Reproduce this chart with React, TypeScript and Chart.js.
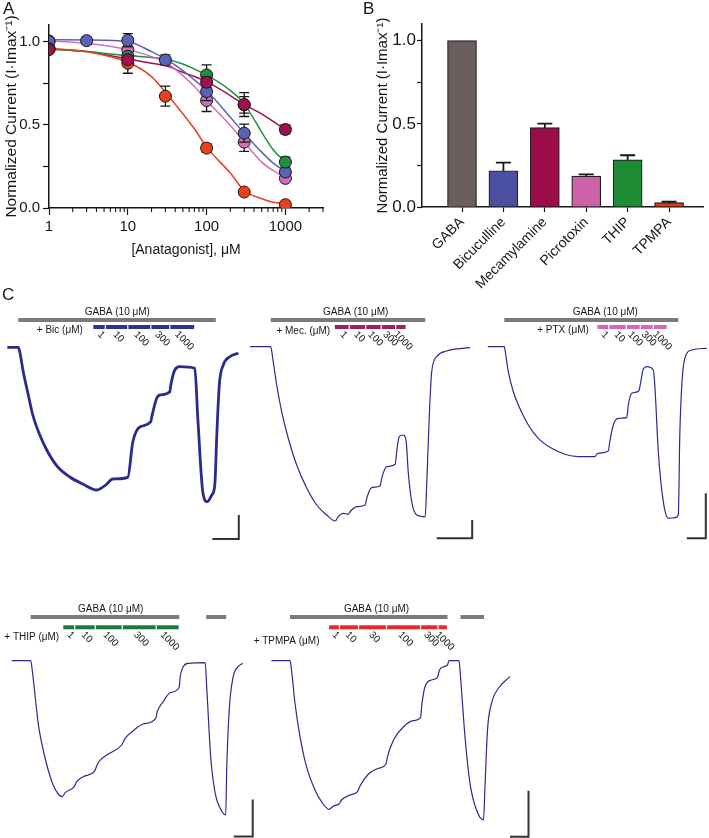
import React, { useEffect, useRef } from "react";
import { Chart, registerables } from "chart.js";

Chart.register(...registerables);

const FONT = "'Liberation Sans', Arial, Helvetica, sans-serif";
const INK = "#161616";
const TRACE = "#2b2b8c";

// ---------------- Panel A: concentration–response ----------------
const aXTicks = [1, 2, 3, 4, 5, 6, 7, 8, 9, 10, 20, 30, 40, 50, 60, 70, 80, 90, 100, 200, 300, 400, 500, 600, 700, 800, 900, 1000, 2000, 3000];
const aXMajor = [1, 10, 100, 1000];
const aYTicks = [0, 0.25, 0.5, 0.75, 1.0];
const aYLabelled = [0, 0.5, 1.0];

const curveX = [1, 3, 10, 20, 30, 50, 70, 100, 200, 300, 500, 700, 1000];
const curveTPMPA = [0.96, 0.94, 0.876, 0.79, 0.696, 0.566, 0.476, 0.366, 0.21, 0.105, 0.056, 0.035, 0.026];
const curveBic = [1.012, 1.01, 1.0, 0.94, 0.896, 0.826, 0.77, 0.706, 0.546, 0.45, 0.336, 0.27, 0.22];
const curvePTX = [1.006, 0.99, 0.952, 0.91, 0.876, 0.796, 0.73, 0.646, 0.496, 0.396, 0.276, 0.225, 0.186];
const curveTHIP = [0.956, 0.94, 0.916, 0.905, 0.896, 0.866, 0.835, 0.8, 0.706, 0.626, 0.456, 0.35, 0.276];
const curveMec = [0.956, 0.94, 0.896, 0.87, 0.856, 0.816, 0.79, 0.76, 0.676, 0.622, 0.566, 0.52, 0.472];

const tpmpaX = [1, 10, 30, 100, 300, 1000];
const tpmpaY = [0.96, 0.87, 0.672, 0.36, 0.096, 0.02];
const tpmpaErr = [0, 0.06, 0.06, 0.025, 0.01, 0.005];
const bicX = [1, 3, 10, 30, 100, 300, 1000];
const bicY = [1.0, 1.006, 1.008, 0.89, 0.7, 0.45, 0.216];
const bicErr = [0, 0.023, 0.04, 0.03, 0.054, 0.054, 0.02];
const ptxX = [1, 10, 100, 300, 1000];
const ptxY = [1.004, 0.952, 0.646, 0.396, 0.178];
const ptxErr = [0, 0.02, 0.066, 0.056, 0.015];
const thipX = [1, 10, 100, 300, 1000];
const thipY = [0.956, 0.912, 0.8, 0.62, 0.276];
const thipErr = [0, 0.02, 0.06, 0.05, 0.03];
const mecX = [1, 10, 100, 300, 1000];
const mecY = [0.952, 0.892, 0.756, 0.622, 0.472];
const mecErr = [0, 0.02, 0.03, 0.072, 0.027];

const colTPMPA = "#e8401a";
const colBic = "#5a62b8";
const colPTX = "#d070b8";
const colTHIP = "#1f9040";
const colMec = "#a0104f";

// ---------------- Panel B: 1 mM antagonist ----------------
const bCategories = ["GABA", "Bicuculline", "Mecamylamine", "Picrotoxin", "THIP", "TPMPA"];
const bValues = [1.0, 0.218, 0.477, 0.186, 0.283, 0.026];
const bErrors = [0, 0.049, 0.024, 0.01, 0.028, 0.006];
const bColors = ["#6a5f5d", "#4a50a0", "#9c0b4a", "#cc62a8", "#1d8c35", "#e03a10"];
const bXTicks = [0, 1, 2, 3, 4, 5];

// ---------------- Panel C: traces (time s, current pA) ----------------
const bicTraceT = [-22, 0, 3, 10, 20, 29, 43, 59, 79, 103, 129, 157, 163, 175, 189, 219, 229, 243, 265, 267, 277, 283, 303, 305, 313, 323, 353, 359, 369, 378, 387, 393, 397, 402, 410, 423, 440];
const bicTraceI = [0, 0, -47, -247, -477, -677, -877, -1047, -1197, -1297, -1367, -1427, -1417, -1377, -1317, -1300, -947, -797, -744, -694, -507, -477, -444, -377, -227, -194, -210, -707, -1447, -1544, -1477, -1377, -877, -377, -177, -94, -60];
const bicSteps = [149, 174, 219, 265, 303, 353];
const bicConc = ["1", "10", "100", "300", "1000"];
const bicGaba = [[0, 395]];

const mecTraceT = [-41, 0, 4, 12, 22, 35, 52, 72, 92, 112, 129, 135, 145, 155, 160, 172, 189, 192, 202, 219, 222, 232, 249, 252, 257, 265, 271, 275, 282, 292, 309, 312, 317, 322, 332, 352, 399];
const mecTraceI = [0, 0, -113, -383, -650, -913, -1183, -1413, -1583, -1683, -1743, -1700, -1666, -1676, -1643, -1600, -1583, -1516, -1410, -1390, -1316, -1200, -1176, -1050, -900, -883, -950, -1250, -1550, -1683, -1700, -1383, -713, -250, -100, -43, -10];
const mecSteps = [127, 157, 190, 221, 250, 271];
const mecConc = ["1", "10", "100", "300", "1000"];
const mecGaba = [[0, 309]];

const ptxTraceT = [-33, 0, 3, 8, 18, 31, 48, 68, 95, 121, 148, 181, 187, 208, 211, 218, 228, 245, 248, 255, 269, 273, 278, 285, 298, 301, 308, 318, 328, 341, 348, 351, 355, 361, 375, 405];
const ptxTraceI = [0, 0, -83, -250, -450, -616, -783, -916, -1016, -1076, -1100, -1100, -1066, -1043, -950, -783, -716, -710, -583, -466, -443, -350, -223, -200, -233, -383, -1050, -1550, -1716, -1710, -1683, -883, -383, -116, -33, -16];
const ptxSteps = [185, 209, 244, 272, 298, 326];
const ptxConc = ["1", "10", "100", "300", "1000"];
const ptxGaba = [[0, 348]];

const thipTraceT = [-38, 0, 3, 9, 15, 25, 35, 45, 55, 63, 69, 87, 92, 105, 127, 135, 152, 182, 189, 205, 225, 250, 253, 265, 279, 297, 299, 305, 315, 349, 352, 360, 369, 379, 390, 392, 397, 405, 415, 424];
const thipTraceI = [0, 0, -93, -360, -626, -893, -1093, -1243, -1333, -1360, -1320, -1260, -1210, -1160, -1110, -1020, -943, -843, -776, -700, -633, -576, -510, -410, -320, -266, -160, -60, -26, -20, -260, -960, -1326, -1476, -1543, -1093, -493, -160, -60, -26];
const thipSteps = [64, 88, 129, 183, 251, 297];
const thipConc = ["1", "10", "100", "300", "1000"];
const thipGaba = [[0, 297], [351, 391]];

const tpTraceT = [-37, 0, 3, 10, 20, 33, 50, 63, 78, 87, 98, 103, 120, 135, 140, 157, 177, 192, 195, 207, 227, 247, 261, 264, 270, 283, 295, 299, 307, 315, 318, 338, 341, 350, 360, 373, 387, 390, 395, 403, 417, 440];
const tpTraceI = [0, 0, -93, -426, -760, -1060, -1293, -1410, -1486, -1453, -1433, -1393, -1343, -1310, -1253, -1133, -1076, -1033, -960, -793, -660, -600, -570, -426, -260, -193, -166, -93, -60, -43, 0, 0, -160, -760, -1226, -1493, -1593, -1260, -693, -426, -276, -160];
const tpSteps = [77, 99, 137, 193, 261, 296, 315];
const tpConc = ["1", "10", "30", "100", "300", "1000"];
const tpGaba = [[0, 315], [341, 388]];

// ---------------- plugins ----------------
const errorBarPlugin = {
  id: "errbars",
  beforeDatasetDraw(chart: any, args: any, opts: any) {
    const ds = chart.data.datasets[args.index];
    if (!ds.yErr) return;
    const ys = chart.scales.y;
    const ctx = chart.ctx;
    ctx.save();
    ctx.strokeStyle = INK;
    ctx.lineWidth = opts.width || 1.3;
    const cap = opts.cap || 5;
    args.meta.data.forEach((el: any, i: number) => {
      const e = ds.yErr[i];
      if (!e) return;
      const v = ds.data[i].y;
      const yt = ys.getPixelForValue(v + e);
      const yb = ys.getPixelForValue(v - e);
      const x = el.x;
      ctx.beginPath();
      ctx.moveTo(x, yt);
      ctx.lineTo(x, yb);
      ctx.moveTo(x - cap, yt);
      ctx.lineTo(x + cap, yt);
      ctx.moveTo(x - cap, yb);
      ctx.lineTo(x + cap, yb);
      ctx.stroke();
    });
    ctx.restore();
  },
};

const minorTickPlugin = {
  id: "minorticks",
  afterDraw(chart: any) {
    const xs = chart.scales.x;
    const ctx = chart.ctx;
    const y0 = chart.chartArea.bottom;
    ctx.save();
    ctx.strokeStyle = INK;
    ctx.lineWidth = 1.1;
    aXTicks.forEach((v) => {
      if (aXMajor.includes(v)) return;
      const x = xs.getPixelForValue(v);
      ctx.beginPath();
      ctx.moveTo(x, y0);
      ctx.lineTo(x, y0 + 4);
      ctx.stroke();
    });
    ctx.restore();
  },
};

function pts(xs: number[], ys: number[]) {
  return xs.map((x, i) => ({ x, y: ys[i] }));
}

function curveDs(ys: number[], color: string) {
  return {
    data: pts(curveX, ys),
    borderColor: color,
    borderWidth: 1.5,
    pointRadius: 0,
    cubicInterpolationMode: "monotone",
    fill: false,
    order: 10,
  };
}

function pointDs(xs: number[], ys: number[], err: number[], color: string, order: number) {
  return {
    data: pts(xs, ys),
    yErr: err,
    showLine: false,
    pointRadius: 6,
    pointBorderWidth: 1,
    pointBackgroundColor: color,
    pointBorderColor: INK,
    order,
  };
}

const yTitle = "Normalized Current (I\u00B7Imax\u207B\u00B9)";

function makeA(): any {
  return {
    type: "line",
    data: {
      datasets: [
        curveDs(curveTPMPA, colTPMPA),
        curveDs(curvePTX, colPTX),
        curveDs(curveBic, colBic),
        curveDs(curveTHIP, colTHIP),
        curveDs(curveMec, colMec),
        pointDs(tpmpaX, tpmpaY, tpmpaErr, colTPMPA, 5),
        pointDs(ptxX, ptxY, ptxErr, colPTX, 4),
        pointDs(bicX, bicY, bicErr, colBic, 3),
        pointDs(thipX, thipY, thipErr, colTHIP, 2),
        pointDs(mecX, mecY, mecErr, colMec, 1),
      ],
    },
    options: {
      animation: false,
      responsive: false,
      devicePixelRatio: 1,
      layout: { padding: { left: 0, top: 25, right: 32, bottom: 26.6 } },
      plugins: { legend: { display: false }, tooltip: { enabled: false }, errbars: { cap: 5, width: 1.3 } },
      scales: {
        x: {
          type: "logarithmic",
          min: 1,
          max: 3000,
          afterBuildTicks: (s: any) => {
            s.ticks = aXTicks.map((v) => ({ value: v }));
          },
          afterFit: (s: any) => {
            s.height = 50.4;
          },
          grid: {
            display: true,
            drawOnChartArea: false,
            drawTicks: true,
            tickLength: 7,
            tickWidth: 1.2,
            tickColor: (c: any) => (c.tick && aXMajor.includes(c.tick.value) ? INK : "rgba(0,0,0,0)"),
          },
          border: { display: true, color: INK, width: 1.5 },
          ticks: {
            autoSkip: false,
            maxRotation: 0,
            minRotation: 0,
            padding: 3,
            color: INK,
            font: { family: FONT, size: 15 },
            callback: (v: any) => (aXMajor.includes(v) ? String(v) : ""),
          },
          title: {
            display: true,
            text: "[Anatagonist], \u03BCM",
            color: INK,
            font: { family: FONT, size: 14 },
            padding: { top: 0, bottom: 0 },
          },
        },
        y: {
          type: "linear",
          min: 0,
          max: 1.1,
          afterBuildTicks: (s: any) => {
            s.ticks = aYTicks.map((v) => ({ value: v }));
          },
          afterFit: (s: any) => {
            s.width = 49;
          },
          grid: { display: true, drawOnChartArea: false, drawTicks: true, tickLength: 6, tickWidth: 1.2, tickColor: INK },
          border: { display: true, color: INK, width: 1.5 },
          ticks: {
            autoSkip: false,
            padding: 3,
            color: INK,
            font: { family: FONT, size: 15 },
            callback: (v: any) => (aYLabelled.includes(v) ? Number(v).toFixed(1) : ""),
          },
          title: {
            display: true,
            text: yTitle,
            color: INK,
            font: { family: FONT, size: 15.5 },
            padding: { top: 2, bottom: 0 },
          },
        },
      },
    },
    plugins: [errorBarPlugin, minorTickPlugin],
  };
}

function makeB(): any {
  return {
    type: "bar",
    data: {
      datasets: [
        {
          data: pts(bXTicks, bValues),
          yErr: bErrors,
          backgroundColor: bColors,
          borderColor: "#222",
          borderWidth: 1.2,
          barThickness: 29,
        },
      ],
    },
    options: {
      animation: false,
      responsive: false,
      devicePixelRatio: 1,
      layout: { padding: { left: 15, top: 24, right: 6, bottom: 0 } },
      plugins: { legend: { display: false }, tooltip: { enabled: false }, errbars: { cap: 7.5, width: 1.8 } },
      scales: {
        x: {
          type: "linear",
          min: -0.966,
          max: 5.82,
          offset: false,
          afterBuildTicks: (s: any) => {
            s.ticks = bXTicks.map((v) => ({ value: v }));
          },
          afterFit: (s: any) => {
            s.height = 83;
          },
          grid: { display: true, drawOnChartArea: false, drawTicks: true, tickLength: 5, tickWidth: 1.2, tickColor: INK, offset: false },
          border: { display: true, color: INK, width: 1.5 },
          ticks: {
            autoSkip: false,
            maxRotation: 45,
            minRotation: 45,
            padding: 2,
            color: INK,
            font: { family: FONT, size: 14 },
            callback: (v: any) => bCategories[v] ?? "",
          },
        },
        y: {
          type: "linear",
          min: 0,
          max: 1.1,
          afterBuildTicks: (s: any) => {
            s.ticks = aYTicks.map((v) => ({ value: v }));
          },
          afterFit: (s: any) => {
            s.width = 52;
          },
          grid: { display: true, drawOnChartArea: false, drawTicks: true, tickLength: 5, tickWidth: 1.2, tickColor: INK },
          border: { display: true, color: INK, width: 1.5 },
          ticks: {
            autoSkip: false,
            padding: 1,
            color: INK,
            font: { family: FONT, size: 17 },
            callback: (v: any) => (aYLabelled.includes(v) ? Number(v).toFixed(1) : ""),
          },
          title: {
            display: true,
            text: yTitle,
            color: INK,
            font: { family: FONT, size: 15 },
            padding: { top: 4, bottom: 0 },
          },
        },
      },
    },
    plugins: [errorBarPlugin],
  };
}

type Panel = {
  key: string;
  t: number[];
  i: number[];
  lw: number;
  tMin: number;
  tMax: number;
  iMin: number;
  iMax: number;
  gaba: number[][];
  gabaLevel: number;
  gabaTextT: number;
  steps: number[];
  conc: string[];
  color: string;
  drugLevel: number;
  drugName: string;
  drugTextT: number;
  drugTextDy: number;
  sb: { t: number; i: number; dt: number; di: number };
};

function annoPlugin(p: Panel) {
  return {
    id: "anno_" + p.key,
    afterDatasetsDraw(chart: any) {
      const ctx = chart.ctx;
      const xs = chart.scales.x;
      const ys = chart.scales.y;
      const X = (t: number) => xs.getPixelForValue(t);
      const Y = (v: number) => ys.getPixelForValue(v);
      ctx.save();
      // GABA application bars
      const gy = Y(p.gabaLevel);
      ctx.fillStyle = "#7a7a7a";
      p.gaba.forEach(([a, b]) => ctx.fillRect(X(a), gy - 2, X(b) - X(a), 4));
      ctx.fillStyle = INK;
      ctx.font = `10px ${FONT}`;
      ctx.textAlign = "center";
      ctx.textBaseline = "middle";
      ctx.fillText("GABA (10 \u03BCM)", X(p.gabaTextT), gy - 8);
      // antagonist application bars
      const dy = Y(p.drugLevel);
      ctx.fillStyle = p.color;
      for (let k = 0; k < p.steps.length - 1; k++) {
        const x0 = X(p.steps[k]) + 0.6;
        const x1 = X(p.steps[k + 1]) - 0.6;
        ctx.fillRect(x0, dy - 2, x1 - x0, 4);
      }
      // concentration labels
      ctx.fillStyle = INK;
      ctx.font = `10px ${FONT}`;
      for (let k = 0; k < p.conc.length; k++) {
        const cx = (X(p.steps[k]) + X(p.steps[k + 1])) / 2 + 2;
        const w = ctx.measureText(p.conc[k]).width;
        ctx.save();
        ctx.translate(cx, dy + 6 + w * 0.35);
        ctx.rotate(Math.PI / 4);
        ctx.textAlign = "center";
        ctx.textBaseline = "middle";
        ctx.fillText(p.conc[k], 0, 0);
        ctx.restore();
      }
      ctx.textAlign = "right";
      ctx.textBaseline = "middle";
      ctx.fillText(p.drugName, X(p.drugTextT), dy + p.drugTextDy);
      // scale bar
      ctx.strokeStyle = "#333";
      ctx.lineWidth = 2;
      ctx.beginPath();
      ctx.moveTo(X(p.sb.t - p.sb.dt), Y(p.sb.i));
      ctx.lineTo(X(p.sb.t), Y(p.sb.i));
      ctx.lineTo(X(p.sb.t), Y(p.sb.i + p.sb.di));
      ctx.stroke();
      ctx.restore();
    },
  };
}

function makeTrace(p: Panel) {
  return (): any => ({
    type: "line",
    data: {
      datasets: [
        {
          data: pts(p.t, p.i),
          borderColor: TRACE,
          borderWidth: p.lw,
          pointRadius: 0,
          cubicInterpolationMode: "monotone",
          fill: false,
        },
      ],
    },
    options: {
      animation: false,
      responsive: false,
      devicePixelRatio: 1,
      layout: { padding: 0 },
      plugins: { legend: { display: false }, tooltip: { enabled: false } },
      scales: {
        x: { type: "linear", display: false, min: p.tMin, max: p.tMax },
        y: { type: "linear", display: false, min: p.iMin, max: p.iMax },
      },
    },
    plugins: [annoPlugin(p)],
  });
}

const panelBic: Panel = {
  key: "bic", t: bicTraceT, i: bicTraceI, lw: 2.8,
  tMin: -36.6, tMax: 453.4, iMin: -1977, iMax: 473,
  gaba: bicGaba, gabaLevel: 273, gabaTextT: 198,
  steps: bicSteps, conc: bicConc, color: "#2e3192", drugLevel: 203,
  drugName: "+ Bic (\u03BCM)", drugTextT: 129, drugTextDy: 3,
  sb: { t: 441, i: -1917, dt: 53, di: 240 },
};
const panelMec: Panel = {
  key: "mec", t: mecTraceT, i: mecTraceI, lw: 1.2,
  tMin: -51.4, tMax: 418.6, iMin: -1983, iMax: 467,
  gaba: mecGaba, gabaLevel: 267, gabaTextT: 170,
  steps: mecSteps, conc: mecConc, color: "#9e1f63", drugLevel: 197,
  drugName: "+ Mec. (\u03BCM)", drugTextT: 119, drugTextDy: 4.5,
  sb: { t: 403, i: -1916, dt: 71, di: 183 },
};
const panelPTX: Panel = {
  key: "ptx", t: ptxTraceT, i: ptxTraceI, lw: 1.2,
  tMin: -48.6, tMax: 409.4, iMin: -1983, iMax: 467,
  gaba: ptxGaba, gabaLevel: 267, gabaTextT: 202,
  steps: ptxSteps, conc: ptxConc, color: "#d468b4", drugLevel: 197,
  drugName: "+ PTX (\u03BCM)", drugTextT: 169, drugTextDy: 3,
  sb: { t: 403, i: -1916, dt: 38, di: 450 },
};
const panelTHIP: Panel = {
  key: "thip", t: thipTraceT, i: thipTraceI, lw: 1.2,
  tMin: -61.4, tMax: 448.6, iMin: -1773, iMax: 657,
  gaba: thipGaba, gabaLevel: 437, gabaTextT: 160,
  steps: thipSteps, conc: thipConc, color: "#1b7a3a", drugLevel: 334,
  drugName: "+ THIP (\u03BCM)", drugTextT: 57, drugTextDy: 10.4,
  sb: { t: 444, i: -1758, dt: 38, di: 370 },
};
const panelTP: Panel = {
  key: "tp", t: tpTraceT, i: tpTraceI, lw: 1.2,
  tMin: -80, tMax: 520, iMin: -1773, iMax: 657,
  gaba: tpGaba, gabaLevel: 437, gabaTextT: 173,
  steps: tpSteps, conc: tpConc, color: "#e8262b", drugLevel: 334,
  drugName: "+ TPMPA (\u03BCM)", drugTextT: 59, drugTextDy: 14.4,
  sb: { t: 477, i: -1760, dt: 37, di: 460 },
};

function ChartBox(props: { left: number; top: number; width: number; height: number; make: () => any }) {
  const ref = useRef<HTMLCanvasElement>(null);
  useEffect(() => {
    const chart = new Chart(ref.current as HTMLCanvasElement, props.make());
    return () => chart.destroy();
  }, []);
  return (
    <canvas
      ref={ref}
      width={props.width}
      height={props.height}
      style={{ position: "absolute", left: props.left, top: props.top, width: props.width, height: props.height }}
    />
  );
}

const letterStyle = (left: number, top: number): React.CSSProperties => ({
  position: "absolute",
  left,
  top,
  fontFamily: FONT,
  fontSize: 17,
  lineHeight: "17px",
  color: INK,
});

export default function App() {
  return (
    <div style={{ position: "fixed", left: 0, top: 0, width: 709, height: 838, background: "#fff", overflow: "hidden" }}>
      <ChartBox left={0} top={0} width={355} height={285} make={makeA} />
      <ChartBox left={355} top={0} width={354} height={290} make={makeB} />
      <ChartBox left={0} top={300} width={245} height={245} make={makeTrace(panelBic)} />
      <ChartBox left={245} top={300} width={235} height={245} make={makeTrace(panelMec)} />
      <ChartBox left={480} top={300} width={229} height={245} make={makeTrace(panelPTX)} />
      <ChartBox left={0} top={595} width={255} height={243} make={makeTrace(panelTHIP)} />
      <ChartBox left={250} top={595} width={300} height={243} make={makeTrace(panelTP)} />
      <div style={letterStyle(3, 0)}>A</div>
      <div style={letterStyle(363, 0)}>B</div>
      <div style={letterStyle(2, 286)}>C</div>
    </div>
  );
}
